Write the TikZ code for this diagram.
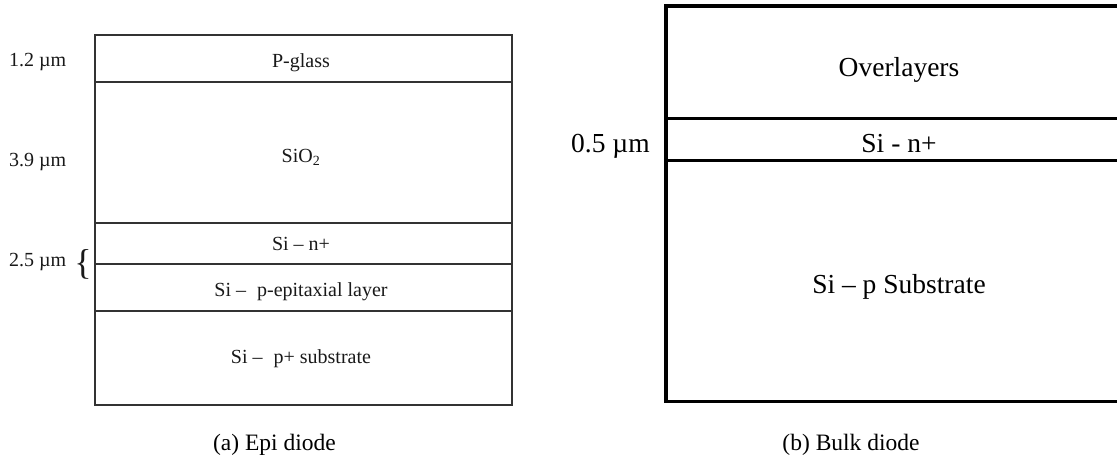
\documentclass[tikz,border=0pt]{standalone}
\usepackage{fontspec}
\setmainfont{Liberation Serif}
\tikzset{
  leftbox/.style={draw=black!80, line width=2pt},
  rightbox/.style={draw=black, line width=3.8pt},
  ltext/.style={anchor=base, inner sep=0pt, font=\fontsize{20}{20}\selectfont, text=black!90},
  lab/.style={anchor=base west, inner sep=0pt, font=\fontsize{20}{20}\selectfont, text=black!90},
  rtext/.style={anchor=base, inner sep=0pt, font=\fontsize{27.5}{28}\selectfont},
  captxt/.style={anchor=base, inner sep=0pt, font=\fontsize{23.5}{24}\selectfont}
}
\begin{document}
\begin{tikzpicture}[x=1pt,y=-1pt]
\clip (0,0) rectangle (1117,458);
\fill[white] (0,0) rectangle (1117,458);
% ---------- (a) Epi diode ----------
\coordinate (aTL) at (95,35);
\coordinate (aBR) at (511.5,405);
\draw[leftbox] (aTL) rectangle (aBR);
\coordinate (l1a) at (95,81.5);  \coordinate (l1b) at (511.5,81.5);
\coordinate (l2a) at (95,223);   \coordinate (l2b) at (511.5,223);
\coordinate (l3a) at (95,263.5); \coordinate (l3b) at (511.5,263.5);
\coordinate (l4a) at (95,311);   \coordinate (l4b) at (511.5,311);
\draw[leftbox] (l1a) -- (l1b);
\draw[leftbox] (l2a) -- (l2b);
\draw[leftbox] (l3a) -- (l3b);
\draw[leftbox] (l4a) -- (l4b);
\node[ltext] (pglass) at (301,67) {P-glass};
\node[ltext] (sio2) at (301,162) {SiO\textsubscript{2}};
\node[ltext] (sinp) at (301,250) {Si – n+};
\node[ltext] (siepi) at (301,296) {Si –\hspace{0.55em}p-epitaxial layer};
\node[ltext] (sisub) at (301,363) {Si –\hspace{0.55em}p+ substrate};
\node[lab] (t12) at (9,66.5) {1.2 µm};
\node[lab] (t39) at (9,166.5) {3.9 µm};
\node[lab] (t25) at (9,266) {2.5 µm};
\node[inner sep=0pt, font=\fontsize{36}{36}\selectfont, text=black!90] (brace) at (83,264) {\{};
\node[captxt] (capa) at (274.5,450) {(a) Epi diode};
% ---------- (b) Bulk diode ----------
\coordinate (bTL) at (666,6);
\coordinate (bTR) at (1140,6);
\coordinate (bBL) at (666,401.5);
\coordinate (bBR) at (1140,401.5);
\draw[rightbox] (bTR) -- (bTL) -- (bBL) -- (bBR);
\coordinate (m1a) at (666,118.5); \coordinate (m1b) at (1140,118.5);
\coordinate (m2a) at (666,160.5); \coordinate (m2b) at (1140,160.5);
\draw[rightbox] (m1a) -- (m1b);
\draw[rightbox] (m2a) -- (m2b);
\node[rtext] (over) at (899,76) {Overlayers};
\node[rtext] (sinb) at (899,152) {Si - n+};
\node[rtext] (sipsub) at (899,293.5) {Si – p Substrate};
\node[rtext, anchor=base west] (t05) at (571,152) {0.5 µm};
\node[captxt] (capb) at (851,450) {(b) Bulk diode};
\end{tikzpicture}
\end{document}
